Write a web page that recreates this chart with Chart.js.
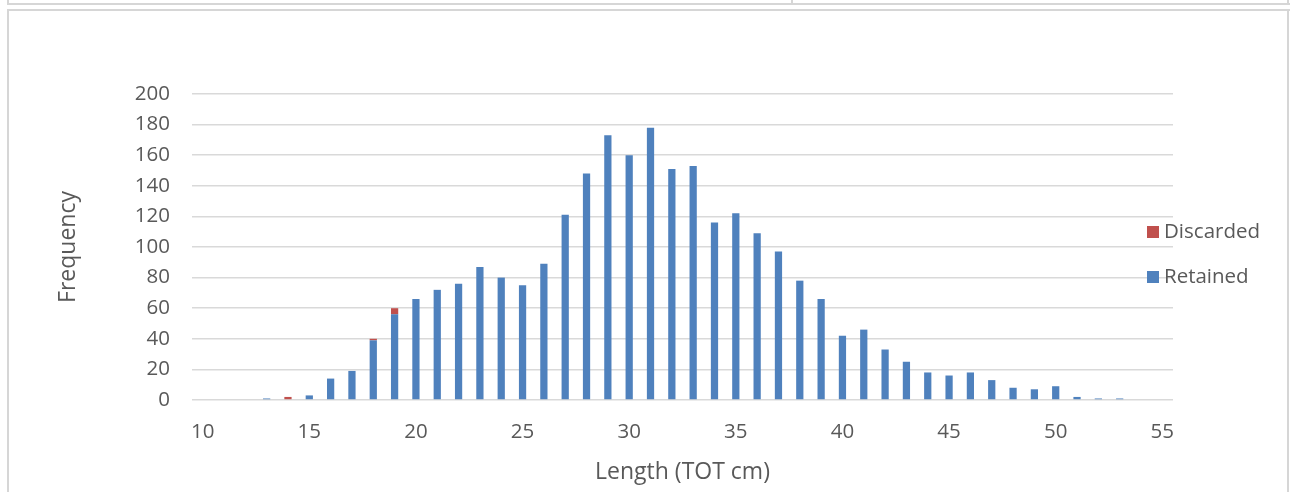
<!DOCTYPE html>
<html>
<head>
<meta charset="utf-8">
<script src="https://cdn.jsdelivr.net/npm/chart.js@4"></script>
<style>
  html, body { margin: 0; padding: 0; background: #fff; }
  body { width: 1293px; height: 492px; position: relative; overflow: hidden; }
  #myChart { position: absolute; left: 0; top: 0; }
  .ln { position: absolute; background: #d6d6d6; }
</style>
</head>
<body>
<canvas id="myChart" width="1293" height="492"></canvas>
<!-- cadre du tableau -->
<div class="ln" style="left:7px;top:0;width:2px;height:5px"></div>
<div class="ln" style="left:7px;top:3px;width:1283px;height:2px"></div>
<div class="ln" style="left:791px;top:0;width:2px;height:5px"></div>
<div class="ln" style="left:1287px;top:0;width:2px;height:5px"></div>
<div class="ln" style="left:7px;top:9px;width:1283px;height:2px"></div>
<div class="ln" style="left:7px;top:9px;width:2px;height:483px"></div>
<div class="ln" style="left:1287px;top:9px;width:2px;height:483px"></div>
<script>
var lengths = [10,11,12,13,14,15,16,17,18,19,20,21,22,23,24,25,26,27,28,29,30,31,32,33,34,35,36,37,38,39,40,41,42,43,44,45,46,47,48,49,50,51,52,53,54,55];
var retained = [0,0,0,1,0,3,14,19,39,56,66,72,76,87,80,75,89,121,148,173,160,178,151,153,116,122,109,97,78,66,42,46,33,25,18,16,18,13,8,7,9,2,1,1,0,0];
var discarded = [0,0,0,0,2,0,0,0,1,4,0,0,0,0,0,0,0,0,0,0,0,0,0,0,0,0,0,0,0,0,0,0,0,0,0,0,0,0,0,0,0,0,0,0,0,0];
var yTicks = [0,20,40,60,80,100,120,140,160,180,200];

var police = "'Open Sans', 'Noto Sans', sans-serif";
var gris = "#595959";

// legende dessinee dans la zone du graphique, comme dans Excel
var legendePlugin = {
    id: 'legende',
    afterDraw: function(chart) {
        var ctx = chart.ctx;
        var ds = chart.data.datasets.slice().reverse();
        ctx.save();
        ctx.font = "20.5px " + police;
        ctx.textBaseline = "middle";
        ds.forEach(function(d, i) {
            var y = 232 + i * 45;
            ctx.fillStyle = d.backgroundColor;
            ctx.fillRect(1147, y - 6, 12, 12);
            ctx.fillStyle = gris;
            ctx.fillText(d.label, 1164, y);
        });
        ctx.restore();
    }
};

new Chart(document.getElementById("myChart"), {
    type: 'bar',
    data: {
        labels: lengths.map(String),
        datasets: [
            { label: "Retained", data: retained, backgroundColor: "#4f81bd",
              barPercentage: 0.34, categoryPercentage: 1 },
            { label: "Discarded", data: discarded, backgroundColor: "#c0504d",
              barPercentage: 0.34, categoryPercentage: 1 }
        ]
    },
    options: {
        responsive: false,
        animation: false,
        layout: { padding: { left: 55, right: 120, top: 94, bottom: 6 } },
        plugins: {
            legend: { display: false },
            tooltip: { enabled: false }
        },
        scales: {
            x: {
                stacked: true,
                grid: { display: false },
                border: { display: false },
                ticks: {
                    autoSkip: false,
                    maxRotation: 0,
                    padding: 12,
                    color: gris,
                    font: { family: police, size: 20.5 },
                    callback: function(v, i) {
                        return lengths[i] % 5 === 0 ? String(lengths[i]) : null;
                    }
                },
                title: {
                    display: true,
                    text: "Length (TOT cm)",
                    color: gris,
                    font: { family: police, size: 23 },
                    padding: { top: 4, bottom: 0 }
                },
                afterFit: function(s) { s.height = 86; }
            },
            y: {
                stacked: true,
                min: 0,
                max: 200,
                afterBuildTicks: function(s) {
                    s.ticks = yTicks.map(function(v) { return { value: v }; });
                },
                grid: { color: "#d9d9d9", lineWidth: 1.5, drawTicks: false },
                border: { display: false },
                ticks: {
                    padding: 22,
                    color: gris,
                    font: { family: police, size: 20.5 }
                },
                title: {
                    display: true,
                    text: "Frequency",
                    color: gris,
                    font: { family: police, size: 23 },
                    padding: 0
                },
                afterFit: function(s) { s.width = 137; }
            }
        }
    },
    plugins: [legendePlugin]
});
</script>
</body>
</html>
